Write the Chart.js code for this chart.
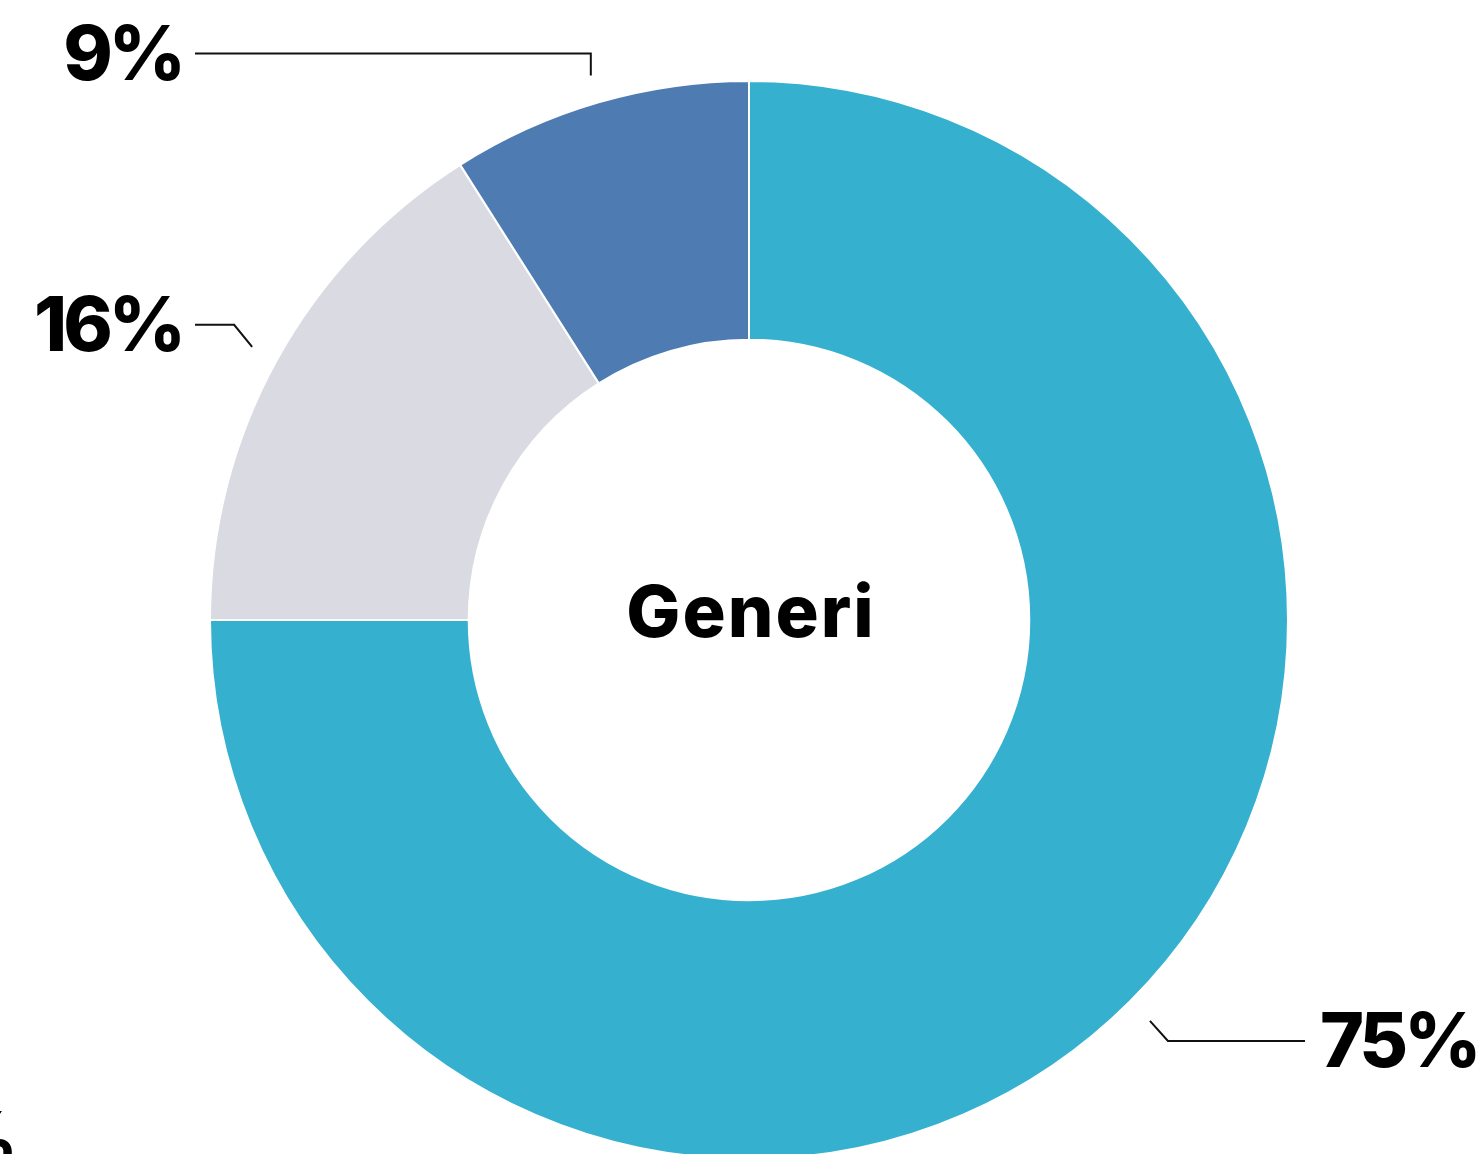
<!DOCTYPE html>
<html>
<head>
<meta charset="utf-8">
<script src="https://cdn.jsdelivr.net/npm/chart.js@4/dist/chart.umd.min.js"></script>
<style>
  html, body { margin: 0; padding: 0; background: #fff; overflow: hidden; }
  #wrap { width: 1480px; height: 1160px; position: relative; }
</style>
</head>
<body>
<div id="wrap"><canvas id="generi-chart"></canvas></div>
<script>
// Slices, in drawing order (clockwise from 12 o'clock)
const categories = ['Categoria A', 'Categoria B', 'Categoria C'];
const values = [75, 16, 9];
const sliceColors = ['#35B0CF', '#DADAE3', '#4E7BB2'];
const centerTitle = 'Generi';

const LABEL_FONT = '800 75px Inter, "Open Sans", sans-serif';

// Percent labels outside the ring, joined by an elbow leader line
const outsideLabels = {
    id: 'outsideLabels',
    afterDraw(chart) {
        const {ctx, chartArea: {left, right}} = chart;
        const meta = chart.getDatasetMeta(0);
        const data = chart.data.datasets[0].data;

        ctx.save();
        meta.data.forEach((arc, i) => {
            const {x, y, startAngle, endAngle, outerRadius} = arc.getProps(['x', 'y', 'startAngle', 'endAngle', 'outerRadius'], true);
            const mid = (startAngle + endAngle) / 2;
            const cos = Math.cos(mid), sin = Math.sin(mid);
            const r = outerRadius + 28;
            const ax = x + r * cos;
            const ay = y + r * sin;

            const isRight = cos >= 0;
            const ex = Math.abs(cos) < 0.5 ? ax : ax + (isRight ? 18 : -18);
            const ey = ay + (sin >= 0 ? 20 : -22);
            const lineEnd = isRight ? right + 16 : left - 14;

            ctx.beginPath();
            ctx.moveTo(ax, ay);
            ctx.lineTo(ex, ey);
            ctx.lineTo(lineEnd, ey);
            ctx.strokeStyle = '#111';
            ctx.lineWidth = 2;
            ctx.stroke();

            ctx.font = LABEL_FONT;
            ctx.letterSpacing = '-4px';
            ctx.fillStyle = '#000';
            ctx.textBaseline = 'alphabetic';
            ctx.textAlign = isRight ? 'left' : 'right';
            ctx.fillText(data[i] + '%', isRight ? right + 31 : left - 27, ey + 26);
        });

        // tail of a neighbouring label, clipped by the canvas edge
        ctx.letterSpacing = '0px';
        ctx.textAlign = 'right';
        ctx.fillText('%', 18, 1166);

        // title in the hole
        const c = meta.data[0];
        ctx.font = '800 72px Inter, "Open Sans", sans-serif';
        ctx.letterSpacing = '2px';
        ctx.textAlign = 'center';
        ctx.fillText(centerTitle, c.x + 2, c.y + 17);
        ctx.restore();
    }
};

const ctx = document.getElementById('generi-chart');

new Chart(ctx, {
    type: 'doughnut',
    data: {
        labels: categories,
        datasets: [{
            data: values,
            backgroundColor: sliceColors,
            borderColor: '#ffffff',
            borderWidth: 2,
            cutout: '52%'
        }]
    },
    options: {
        responsive: true,
        maintainAspectRatio: false,
        animation: false,
        layout: {
            padding: {top: 80, bottom: 0, left: 209, right: 191}
        },
        plugins: {
            legend: { display: false },
            tooltip: { enabled: false }
        }
    },
    plugins: [outsideLabels]
});
</script>
</body>
</html>
